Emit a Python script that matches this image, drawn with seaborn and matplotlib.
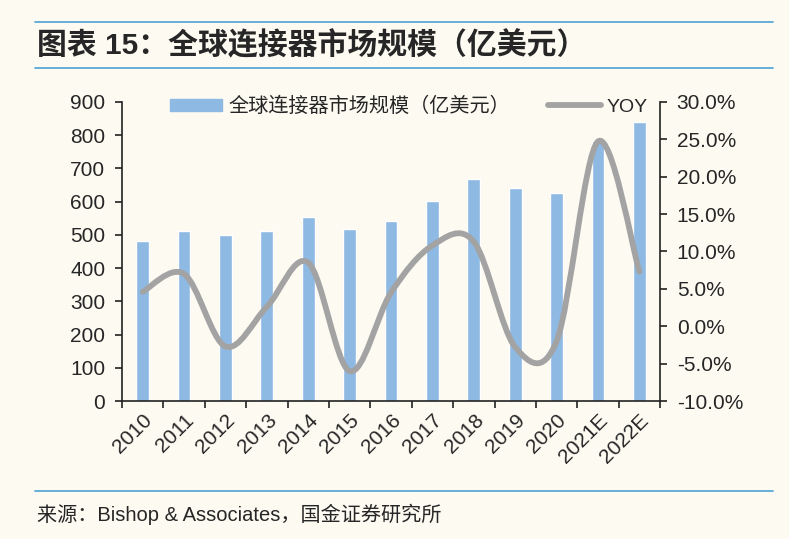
import numpy as np
import seaborn as sns
import matplotlib.pyplot as plt
from matplotlib.path import Path
from matplotlib.patches import PathPatch, Patch
from matplotlib.lines import Line2D

# données
annees = ['2010', '2011', '2012', '2013', '2014', '2015', '2016',
          '2017', '2018', '2019', '2020', '2021E', '2022E']
marche = [480, 511, 498, 511, 554, 519, 541, 601, 667, 642, 626, 781, 838]
yoy = [4.6, 7.0, -2.7, 2.6, 8.5, -6.0, 4.5, 10.8, 11.3, -2.8, -2.0, 24.7, 7.3]

titre = '图表 15：全球连接器市场规模（亿美元）'
source = '来源：Bishop & Associates，国金证券研究所'
nom_barres = '全球连接器市场规模（亿美元）'
nom_ligne = 'YOY'

fond = '#FDFAF2'
bleu_barre = '#8DB9E3'
gris = '#A3A3A3'
bleu_trait = '#5AAAD6'

sns.set_style('ticks')
plt.rcParams['font.family'] = ['Liberation Sans', 'Noto Sans CJK SC']
plt.rcParams['axes.unicode_minus'] = False

fig = plt.figure(figsize=(7.89, 5.39), dpi=100, facecolor=fond)
ax = fig.add_axes([0.1546, 0.256, 0.682, 0.555])
ax.set_facecolor(fond)

sns.barplot(x=annees, y=marche, ax=ax, color=bleu_barre, saturation=1,
            width=0.31, zorder=2)
ax.set_ylim(0, 900)
ax.set_yticks(range(0, 901, 100))
ax.set_xlim(-0.5, len(annees) - 0.5)

# ticks aux limites des catégories, étiquettes au centre
ax.set_xticks(np.arange(-0.5, len(annees), 1))
ax.set_xticklabels([])
ax.set_xticks(range(len(annees)), minor=True)
ax.set_xticklabels(annees, minor=True, rotation=45, ha='right',
                   rotation_mode='anchor', fontsize=15)
ax.tick_params(axis='x', which='minor', length=0, pad=7)
ax.tick_params(axis='x', which='major', length=5, width=1.2, color='#222222')
ax.tick_params(axis='y', labelsize=15, length=5, width=1.2, pad=7, color='#222222')
for s in ['top', 'right']:
    ax.spines[s].set_visible(False)
for s in ['left', 'bottom']:
    ax.spines[s].set_linewidth(1.2)
    ax.spines[s].set_color('#222222')

ax2 = ax.twinx()
ax2.set_ylim(-10, 30)
ax2.set_yticks(range(-10, 31, 5))
ax2.set_yticklabels([f'{v:.1f}%' for v in range(-10, 31, 5)])
ax2.tick_params(axis='y', labelsize=15, length=5, width=1.2, pad=7, color='#222222')
for s in ['top', 'left', 'bottom']:
    ax2.spines[s].set_visible(False)
ax2.spines['right'].set_linewidth(1.2)
ax2.spines['right'].set_color('#222222')

# courbe lissée (style Excel) : bézier de Catmull-Rom entre les points
xs = np.arange(len(yoy), dtype=float)
ys = np.array(yoy, dtype=float)
pts = np.column_stack([xs, ys])
verts = [pts[0]]
codes = [Path.MOVETO]
for i in range(len(pts) - 1):
    p0 = pts[i - 1] if i > 0 else pts[i]
    p1, p2 = pts[i], pts[i + 1]
    p3 = pts[i + 2] if i + 2 < len(pts) else pts[i + 1]
    verts += [p1 + (p2 - p0) / 6, p2 - (p3 - p1) / 6, p2]
    codes += [Path.CURVE4] * 3
ax2.add_patch(PathPatch(Path(verts, codes), facecolor='none', edgecolor=gris,
                        lw=4.2, capstyle='round', zorder=3))

handles = [Patch(color=bleu_barre), Line2D([], [], color=gris, lw=4.2)]
leg = ax.legend(handles, [nom_barres, nom_ligne], ncol=2, frameon=False,
                loc='upper center', bbox_to_anchor=(0.533, 1.078), fontsize=14.5,
                handlelength=2.6, handleheight=0.55, handletextpad=0.3,
                columnspacing=1.9)
leg.get_texts()[1].set_fontsize(14)

# titre, filets et source
fig.add_artist(Line2D([0.044, 0.98], [0.959, 0.959], color=bleu_trait, lw=1.3))
fig.add_artist(Line2D([0.044, 0.98], [0.874, 0.874], color=bleu_trait, lw=1.3))
fig.add_artist(Line2D([0.044, 0.98], [0.089, 0.089], color=bleu_trait, lw=1.3))
fig.text(0.047, 0.916, titre, fontsize=21.5, fontweight='bold', va='center')
fig.text(0.047, 0.045, source, fontsize=14.5, va='center')

plt.savefig('out.png', dpi=100, facecolor=fond)
